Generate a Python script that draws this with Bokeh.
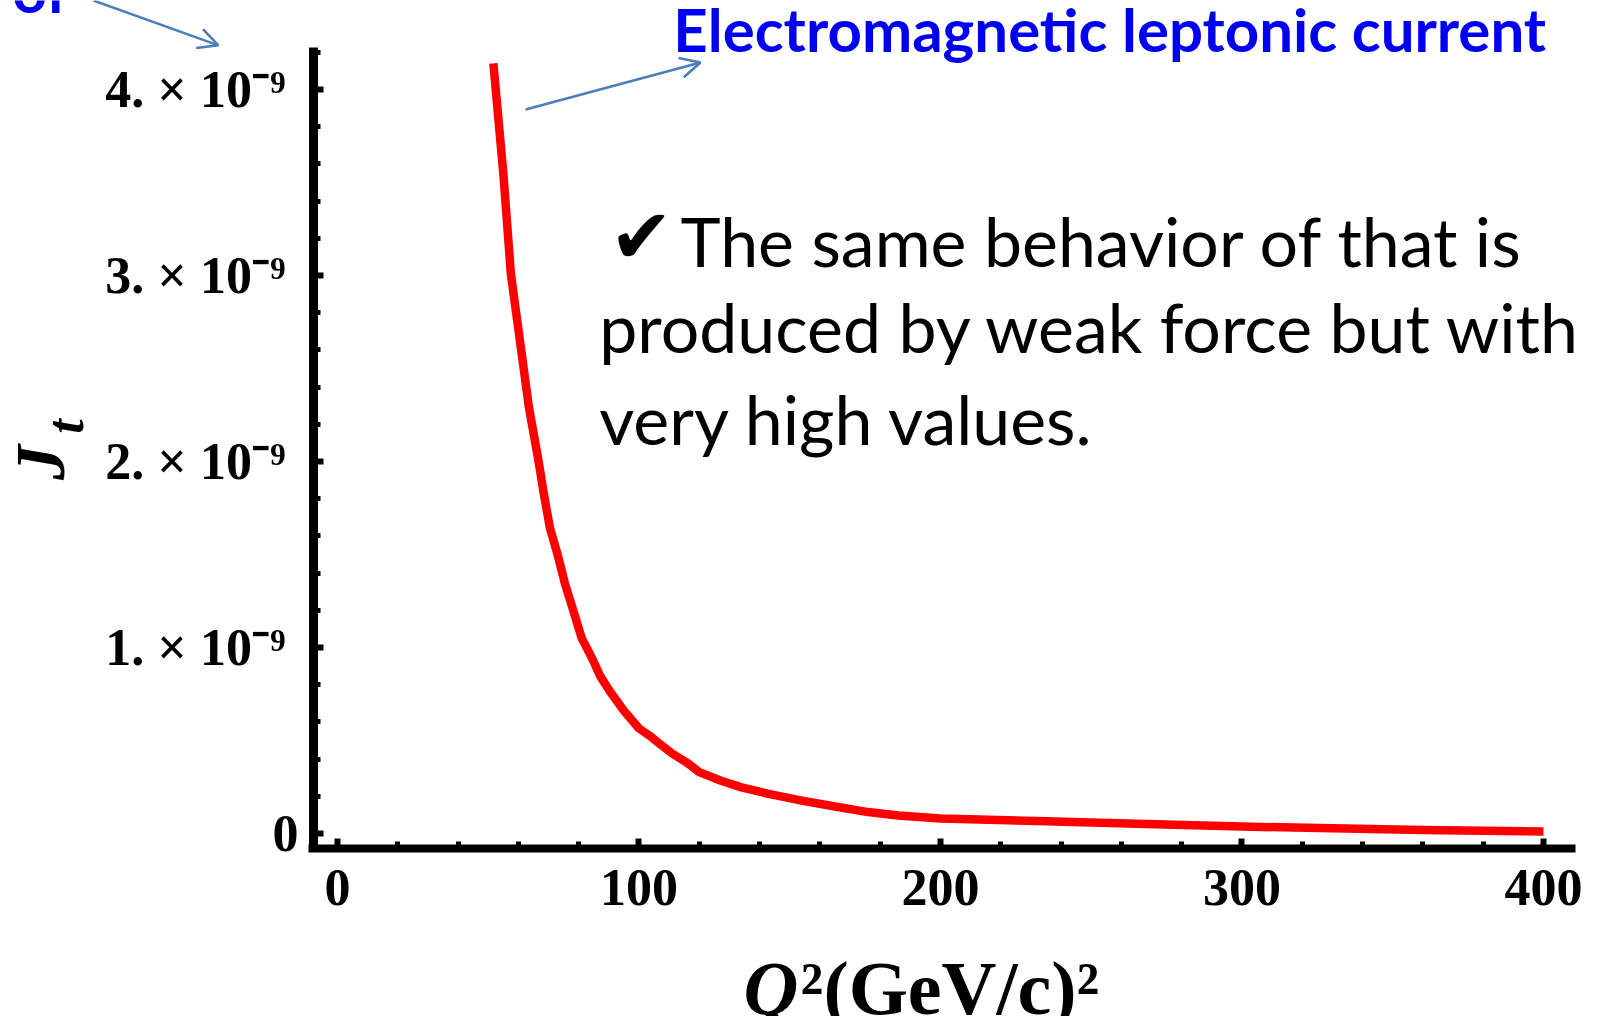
from bokeh.plotting import figure
from bokeh.models import FixedTicker, Label, Arrow, OpenHead, Range1d
from bokeh.embed import file_html
from bokeh.resources import INLINE

# ---- data (Q^2 in (GeV/c)^2, J_t in units of 1e-9) ----
q2 = [51.7, 55, 57.5, 60.5, 63.5, 66.5, 68.5, 70.5, 73, 75.5, 78, 81, 84.5, 87,
      90.5, 95, 100, 104, 107, 111, 116, 120, 127, 134, 143, 154, 165, 176, 186,
      200, 235, 265, 300, 330, 360, 400]
jt_e9 = [4.14, 3.55, 3.01, 2.65, 2.29, 2.02, 1.82, 1.64, 1.50, 1.34, 1.21, 1.05,
         0.94, 0.85, 0.76, 0.66, 0.565, 0.52, 0.48, 0.43, 0.38, 0.33, 0.285, 0.248,
         0.213, 0.177, 0.145, 0.115, 0.097, 0.08, 0.066, 0.052, 0.037, 0.028,
         0.019, 0.011]

x_ticks = [0, 100, 200, 300, 400]
x_tick_labels = ["0", "100", "200", "300", "400"]
y_ticks = [0, 1, 2, 3, 4]
y_tick_labels = ["0"] + ["%d. \u00d7 10\u207b\u2079\u00a0" % k for k in (1, 2, 3, 4)]

title_text = "Electromagnetic  leptonic current"
note_lines = ["The same behavior of that is", "produced by weak force but with",
              "very high values."]

BLUE = "#0000F0"
ARROW = "#4A7EBB"

# whole canvas is the frame; axes are placed at fixed data locations
p = figure(width=1584, height=1016, output_backend="svg", toolbar_location=None,
           x_range=Range1d(-111.77, 413.6), y_range=Range1d(-0.9839, 4.478),
           min_border=0)
p.title.visible = False
p.outline_line_color = None
p.grid.visible = False
p.background_fill_color = "white"
p.border_fill_color = "white"

p.line(q2, jt_e9, line_color="#FF0000", line_width=8.5, line_join="round")

xa = p.xaxis[0]
ya = p.yaxis[0]
xa.fixed_location = -0.0806
ya.fixed_location = -7.96
xa.bounds = (-9.6, 410.6)
ya.bounds = (-0.0806, 4.228)
xa.ticker = FixedTicker(ticks=x_ticks, minor_ticks=[20 * i for i in range(21)])
ya.ticker = FixedTicker(ticks=y_ticks, minor_ticks=[0.2 * i for i in range(22)])
xa.major_label_overrides = dict(zip(x_ticks, x_tick_labels))
ya.major_label_overrides = dict(zip(y_ticks, y_tick_labels))

for ax, w in ((xa, 8), (ya, 9)):
    ax.axis_line_width = w
    ax.axis_line_color = "black"
    ax.major_tick_in = 10
    ax.major_tick_out = 0
    ax.major_tick_line_width = 6
    ax.major_tick_line_color = "black"
    ax.minor_tick_in = 7
    ax.minor_tick_out = 0
    ax.minor_tick_line_width = 5
    ax.minor_tick_line_color = "black"
    ax.major_label_text_font = "Liberation Serif"
    ax.major_label_text_font_style = "bold"
    ax.major_label_text_font_size = "52px"
    ax.major_label_text_color = "black"
xa.major_label_standoff = 22
ya.major_label_standoff = 15

# ---- annotations ----
for xs, ys, xe, ye in ((-80.9, 4.478, -39.5, 4.237), (62.4, 3.892, 120.4, 4.145)):
    p.add_layout(Arrow(end=OpenHead(size=20, line_color=ARROW, line_width=2.5),
                       x_start=xs, y_start=ys, x_end=xe, y_end=ye,
                       line_color=ARROW, line_width=2.5))

p.add_layout(Label(x=-107.8, y=4.532, text="of", text_font="Lato",
                   text_font_style="bold", text_font_size="60px",
                   text_color=BLUE, text_baseline="alphabetic"))
p.add_layout(Label(x=111.4, y=4.3226, text=title_text, text_font="Lato",
                   text_font_style="bold", text_font_size="60px",
                   text_color=BLUE, text_baseline="alphabetic"))

p.add_layout(Label(x=90.2, y=3.21, text="\u2714", text_font="DejaVu Sans",
                   text_font_size="76px", text_color="black",
                   text_baseline="alphabetic"))
note_pos = [(113.8, 3.188), (86.8, 2.726), (86.8, 2.231)]
for (lx, ly), t in zip(note_pos, note_lines):
    p.add_layout(Label(x=lx, y=ly, text=t, text_font="Lato",
                       text_font_size="68px", text_color="black",
                       text_baseline="alphabetic"))

# axis titles
p.add_layout(Label(x=-98.5, y=1.995, text="J", angle=1.5708, text_font="Liberation Serif",
                   text_font_style="bold italic", text_font_size="70px",
                   text_color="black", text_align="center", text_baseline="alphabetic"))
p.add_layout(Label(x=-90.2, y=2.188, text="t", angle=1.5708, text_font="Liberation Serif",
                   text_font_style="bold italic", text_font_size="52px",
                   text_color="black", text_align="center", text_baseline="alphabetic"))
p.add_layout(Label(x=134.7, y=-0.828, text="Q", text_font="Liberation Serif",
                   text_font_style="bold italic", text_font_size="76px",
                   text_color="black", text_baseline="alphabetic"))
p.add_layout(Label(x=153.6, y=-0.828, text="\u00b2(GeV/c)\u00b2", text_font="Liberation Serif",
                   text_font_style="bold", text_font_size="76px",
                   text_color="black", text_baseline="alphabetic"))

open("out.html", "w").write(file_html(p, INLINE))
